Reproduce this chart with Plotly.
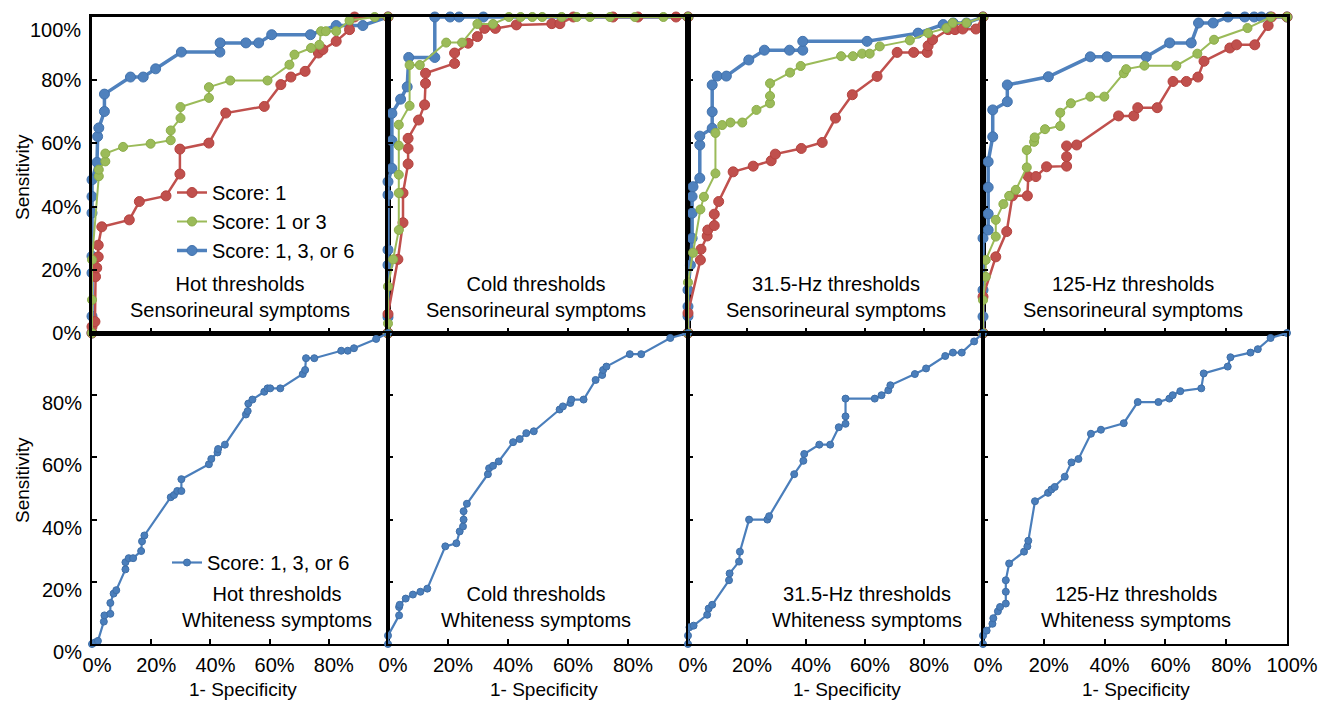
import plotly.graph_objects as go

# ---------------- data (percent) ----------------
# Top row: sensorineural symptoms, three scoring rules
hot_s1_x = [0, 0, 1.0, 1.2, 1.6, 2.1, 2.1, 3.3, 12.6, 16.0, 25.0, 29.7, 29.7, 39.5, 45.2, 58.2, 63.8, 67.2, 72.0, 76.5, 78.0, 82.5, 87.0, 88.7, 100]
hot_s1_y = [0, 2.0, 3.6, 17.8, 20.6, 24.1, 27.8, 33.6, 35.8, 41.6, 43.4, 50.3, 58.2, 60.1, 69.6, 71.7, 78.6, 81.0, 82.8, 88.6, 89.7, 92.3, 96.0, 100, 100]
hot_s13_x = [0, 0, 0, 2.3, 2.3, 4.5, 4.5, 10.5, 19.8, 26.6, 26.6, 29.9, 29.9, 39.5, 39.5, 46.7, 59.3, 66.7, 68.4, 74.0, 76.8, 77.4, 79.0, 82.5, 87.0, 95.5, 100]
hot_s13_y = [0, 10.5, 23.2, 49.6, 51.7, 54.3, 56.8, 58.9, 59.9, 61.0, 64.1, 68.0, 71.5, 74.4, 77.8, 79.9, 79.9, 84.9, 88.1, 90.2, 91.2, 95.5, 95.5, 95.5, 98.9, 100, 100]
hot_s136_x = [0, 0, 0, 0, 0, 0, 0, 1.7, 1.9, 2.3, 4.2, 4.2, 13.0, 17.3, 21.5, 30.2, 43.2, 43.3, 52.0, 56.3, 60.7, 73.8, 82.5, 91.5, 100]
hot_s136_y = [0, 5.3, 19.0, 24.3, 38.0, 43.2, 48.5, 54.0, 62.2, 64.9, 70.1, 75.6, 81.0, 81.0, 83.6, 88.9, 88.9, 91.8, 91.8, 91.8, 94.4, 94.4, 97.3, 97.3, 100]

cold_s1_x = [0, 0, 3.3, 5.0, 5.0, 6.7, 6.7, 6.7, 10.2, 12.2, 12.5, 12.5, 22.2, 22.2, 26.7, 29.8, 32.2, 35.8, 42.8, 54.6, 57.3, 61.8, 75.0, 83.3, 96.0, 100]
cold_s1_y = [0, 6.0, 23.3, 34.9, 44.3, 53.5, 58.4, 61.6, 67.4, 72.2, 79.0, 82.2, 85.3, 88.6, 91.7, 93.8, 96.4, 96.4, 97.5, 97.9, 97.9, 100, 100, 100, 100, 100]
cold_s13_x = [0, 0, 0, 1.7, 3.6, 3.6, 3.6, 3.6, 3.6, 7.2, 7.2, 10.6, 19.4, 24.7, 29.8, 35.0, 40.3, 44.2, 48.1, 51.4, 57.9, 62.9, 67.3, 74.0, 82.3, 91.8, 100]
cold_s13_y = [0, 3.0, 14.7, 23.3, 32.6, 44.3, 50.1, 59.3, 65.9, 71.9, 84.8, 84.8, 91.9, 91.9, 97.8, 97.8, 100, 100, 100, 100, 100, 100, 100, 100, 100, 100, 100]
cold_s136_x = [0, 0, 0, 0, 0, 0, 1.3, 1.3, 1.3, 4.2, 6.4, 6.9, 15.6, 15.6, 20.7, 23.7, 31.8, 100]
cold_s136_y = [0, 5.0, 21.5, 26.3, 43.7, 47.9, 52.1, 60.9, 69.5, 74.0, 77.9, 87.2, 87.2, 100, 100, 100, 100, 100]

hz31_s1_x = [0, 0, 4.2, 4.4, 6.5, 6.7, 8.9, 8.9, 10.4, 15.3, 22.1, 28.2, 29.6, 38.4, 45.5, 50.0, 55.7, 64.1, 70.9, 76.5, 81.1, 81.4, 82.9, 88.2, 90.5, 93.1, 97.6, 100]
hz31_s1_y = [0, 6.3, 23.1, 26.5, 30.7, 32.6, 34.0, 37.6, 41.6, 51.0, 52.8, 54.5, 56.6, 58.4, 60.3, 68.0, 75.4, 81.2, 88.8, 88.8, 88.8, 90.9, 92.8, 96.0, 96.0, 96.2, 96.2, 100]
hz31_s13_x = [0, 0, 1.7, 4.2, 5.4, 9.3, 9.3, 11.6, 14.4, 18.4, 23.2, 27.8, 27.8, 27.8, 34.6, 38.2, 51.9, 55.9, 59.0, 61.6, 65.0, 75.2, 81.4, 87.6, 89.7, 94.4, 100]
hz31_s13_y = [0, 16.0, 25.4, 39.1, 43.1, 50.5, 63.3, 65.8, 66.6, 66.6, 70.6, 72.7, 75.0, 79.0, 82.4, 84.5, 87.6, 87.6, 88.4, 88.4, 90.7, 92.6, 94.9, 96.5, 98.1, 98.1, 100]
hz31_s136_x = [0, 0, 0, 0, 0.8, 1.4, 1.4, 1.4, 1.7, 4.0, 4.0, 4.0, 8.2, 8.2, 8.2, 9.9, 13.0, 20.6, 25.9, 34.4, 38.9, 38.9, 60.7, 78.0, 86.5, 89.9, 94.4, 100]
hz31_s136_y = [0, 5.3, 8.4, 13.6, 21.5, 30.0, 37.9, 43.2, 46.3, 49.0, 59.5, 62.3, 64.8, 70.0, 78.5, 81.3, 81.3, 86.4, 89.5, 89.5, 89.5, 92.3, 92.3, 94.9, 97.6, 98.1, 98.1, 100]

hz125_s1_x = [0, 0, 4.2, 7.8, 9.7, 14.6, 14.9, 17.4, 20.9, 27.5, 27.5, 27.5, 30.8, 44.6, 49.6, 50.9, 57.3, 62.5, 66.9, 70.7, 72.7, 81.2, 83.4, 89.4, 93.8, 94.9, 100]
hz125_s1_y = [0, 11.5, 24.1, 32.1, 43.4, 43.4, 49.5, 49.5, 52.6, 52.8, 55.8, 59.2, 59.5, 68.7, 68.7, 71.3, 71.3, 79.6, 79.6, 81.0, 86.0, 90.2, 91.2, 91.2, 97.3, 100, 100]
hz125_s13_x = [0, 0, 0.9, 0.9, 4.2, 4.2, 6.7, 8.6, 10.8, 14.4, 14.4, 16.8, 17.0, 20.4, 25.4, 25.4, 28.9, 35.3, 39.9, 46.3, 47.1, 53.1, 63.6, 70.5, 76.0, 87.0, 94.7, 100]
hz125_s13_y = [0, 10.4, 17.8, 23.1, 30.5, 35.8, 40.8, 43.4, 45.3, 52.4, 57.9, 60.5, 61.9, 64.5, 65.5, 69.7, 72.7, 74.8, 74.8, 82.2, 83.5, 84.6, 84.6, 88.4, 92.8, 96.5, 100, 100]
hz125_s136_x = [0, 0, 0, 0, 1.7, 1.7, 1.7, 1.7, 3.2, 3.2, 8.0, 8.0, 21.5, 35.3, 40.8, 53.7, 61.4, 68.5, 70.9, 75.7, 80.6, 86.1, 89.2, 91.6, 94.4, 100]
hz125_s136_y = [0, 5.2, 13.6, 30.0, 32.6, 37.7, 46.1, 54.2, 62.1, 70.6, 73.2, 78.5, 81.1, 87.4, 87.4, 87.4, 91.8, 91.8, 98.1, 98.1, 100, 100, 100, 100, 100, 100]

# Bottom row: whiteness symptoms, score 1, 3, or 6
hot_wh_x = [0, 1.0, 2.0, 4.0, 4.2, 6.2, 6.2, 7.3, 8.2, 11.3, 11.3, 12.4, 13.9, 16.6, 16.9, 17.7, 26.6, 27.7, 28.8, 30.2, 30.2, 39.5, 40.3, 42.4, 42.6, 44.9, 52.0, 52.6, 52.8, 54.2, 58.2, 59.3, 60.2, 63.6, 71.2, 72.0, 72.3, 75.1, 84.2, 86.4, 88.5, 96.0, 100]
hot_wh_y = [0, 0.5, 1.0, 7.2, 9.2, 9.7, 13.2, 16.2, 17.3, 24.0, 26.3, 27.6, 27.6, 29.9, 33.0, 34.9, 47.2, 47.9, 49.2, 49.2, 53.0, 57.8, 59.5, 61.6, 62.7, 64.1, 73.8, 74.9, 77.3, 78.6, 81.1, 82.2, 82.2, 82.2, 86.8, 88.1, 91.9, 91.9, 94.3, 94.3, 95.1, 98.1, 100]
cold_wh_x = [0, 0, 3.7, 3.7, 3.9, 5.9, 8.3, 10.8, 13.1, 19.1, 22.8, 23.9, 25.0, 25.2, 25.2, 26.3, 33.3, 33.7, 35.0, 36.9, 41.7, 43.9, 46.1, 48.6, 57.2, 58.3, 60.8, 61.1, 65.2, 69.2, 71.4, 71.7, 72.8, 80.6, 84.4, 94.1, 100]
cold_wh_y = [0, 2.7, 9.2, 11.9, 12.6, 14.6, 15.9, 16.8, 17.8, 31.4, 32.4, 36.2, 37.8, 40.0, 42.7, 45.1, 54.6, 56.5, 57.3, 58.7, 64.9, 65.9, 67.8, 68.4, 75.4, 76.4, 77.5, 78.6, 78.6, 84.9, 86.5, 88.1, 89.2, 93.2, 93.2, 98.4, 100]
hz31_wh_x = [0, 0, 0.5, 1.9, 6.5, 7.0, 8.2, 13.9, 14.1, 17.3, 17.6, 20.7, 26.9, 27.5, 36.0, 39.1, 39.4, 44.5, 48.2, 51.1, 53.4, 53.4, 53.4, 63.3, 65.6, 67.9, 68.6, 76.9, 80.7, 87.2, 89.8, 92.8, 97.0, 100]
hz31_wh_y = [0, 2.7, 5.4, 5.9, 9.4, 11.4, 12.6, 20.5, 22.7, 26.5, 29.7, 40.0, 40.0, 41.1, 54.6, 58.9, 61.1, 64.1, 64.1, 69.7, 70.8, 73.2, 78.9, 78.9, 80.0, 81.6, 83.2, 86.8, 88.6, 92.6, 93.7, 93.7, 97.3, 100]
hz125_wh_x = [0, 0, 1.2, 3.1, 3.4, 4.9, 5.6, 7.5, 7.5, 7.5, 8.6, 13.5, 14.6, 14.9, 17.1, 21.4, 22.5, 23.6, 26.9, 29.1, 31.4, 35.5, 38.8, 46.3, 50.9, 57.7, 61.3, 62.4, 64.9, 71.8, 72.6, 80.5, 81.4, 88.0, 90.4, 94.6, 100]
hz125_wh_y = [0, 2.7, 4.3, 6.5, 8.3, 10.5, 11.9, 13.0, 16.8, 20.5, 25.9, 29.7, 31.4, 33.2, 45.9, 48.6, 49.7, 50.5, 53.8, 58.4, 59.5, 67.6, 68.9, 71.0, 77.8, 77.8, 78.9, 80.0, 81.3, 82.2, 87.0, 89.2, 92.2, 93.7, 94.8, 98.4, 100]

panel_titles_top = ["Hot thresholds", "Cold thresholds", "31.5-Hz thresholds", "125-Hz thresholds"]
symptom_top = "Sensorineural symptoms"
symptom_bottom = "Whiteness symptoms"
series_names = ["Score: 1", "Score: 1 or 3", "Score: 1, 3, or 6"]
x_title = "1- Specificity"
y_title = "Sensitivity"
tick_values = [0, 20, 40, 60, 80, 100]
tick_labels = ["0%", "20%", "40%", "60%", "80%", "100%"]

top_series = [
    [(hot_s1_x, hot_s1_y), (hot_s13_x, hot_s13_y), (hot_s136_x, hot_s136_y)],
    [(cold_s1_x, cold_s1_y), (cold_s13_x, cold_s13_y), (cold_s136_x, cold_s136_y)],
    [(hz31_s1_x, hz31_s1_y), (hz31_s13_x, hz31_s13_y), (hz31_s136_x, hz31_s136_y)],
    [(hz125_s1_x, hz125_s1_y), (hz125_s13_x, hz125_s13_y), (hz125_s136_x, hz125_s136_y)],
]
bottom_series = [(hot_wh_x, hot_wh_y), (cold_wh_x, cold_wh_y), (hz31_wh_x, hz31_wh_y), (hz125_wh_x, hz125_wh_y)]

# ---------------- styling / layout ----------------
W, H = 1320, 702
FONT = "Liberation Sans, Arial, sans-serif"
col_px = [(92, 388), (388, 688), (688, 983), (983, 1287)]
row_px = [(17, 333), (333, 644)]
RED, GREEN, BLUE = "#C0504D", "#9BBB59", "#4F81BD"
styles = [
    dict(color=RED, lw=2.5, ms=10, edge="#B5433F"),
    dict(color=GREEN, lw=2.0, ms=9, edge="#8CAD49"),
    dict(color=BLUE, lw=3.5, ms=10, edge="#4273AE"),
]
draw_order = [2, 0, 1]  # blue underneath, green on top

fig = go.Figure()

def ax_id(r, c):
    return r * 4 + c + 1

for c in range(4):
    k = ax_id(0, c)
    for s in draw_order:
        xs, ys = top_series[c][s]
        st = styles[s]
        fig.add_trace(go.Scatter(
            x=xs, y=ys, mode="lines+markers", name=series_names[s],
            line=dict(color=st["color"], width=st["lw"]),
            marker=dict(size=st["ms"], color=st["color"], line=dict(color=st["edge"], width=1)),
            xaxis=f"x{k}", yaxis=f"y{k}", cliponaxis=False,
            showlegend=(c == 0), legend="legend", legendrank=s + 1,
        ))
    k = ax_id(1, c)
    xs, ys = bottom_series[c]
    fig.add_trace(go.Scatter(
        x=xs, y=ys, mode="lines+markers", name=series_names[2],
        line=dict(color="#4A7EBB", width=2.2),
        marker=dict(size=7, color="#4A7EBB", line=dict(color="#3F6FA8", width=1)),
        xaxis=f"x{k}", yaxis=f"y{k}", cliponaxis=False,
        showlegend=(c == 0), legend="legend2",
    ))

layout = dict(
    width=W, height=H, margin=dict(l=0, r=0, t=0, b=0, pad=0, autoexpand=False),
    paper_bgcolor="white", plot_bgcolor="white",
    font=dict(family=FONT, size=20, color="black"),
    hovermode=False,
    legend=dict(x=172 / W, y=1 - 173 / H, xanchor="left", yanchor="top",
                bgcolor="rgba(0,0,0,0)", font=dict(size=20), tracegroupgap=0,
                traceorder="normal"),
    legend2=dict(x=167 / W, y=1 - 543 / H, xanchor="left", yanchor="top",
                 bgcolor="rgba(0,0,0,0)", font=dict(size=20)),
)

for r in range(2):
    for c in range(4):
        k = ax_id(r, c)
        x0, x1 = col_px[c]
        y0, y1 = row_px[r]
        nx = 6 if c == 3 else 5
        lw = 2.5 if r == 0 else 2
        layout[f"xaxis{k}"] = dict(
            domain=[x0 / W, x1 / W], anchor=f"y{k}", range=[0, 100], automargin=False,
            tickmode="array", tickvals=tick_values[:nx], ticktext=tick_labels[:nx],
            showticklabels=(r == 1),
            ticks="inside", ticklen=5, tickwidth=1.5, tickcolor="black",
            showline=True, mirror=True, linecolor="black", linewidth=lw,
            showgrid=False, zeroline=False, ticklabelshift=5, ticklabelstandoff=2,
            tickfont=dict(family=FONT, size=20, color="black"),
        )
        layout[f"yaxis{k}"] = dict(
            domain=[1 - y1 / H, 1 - y0 / H], anchor=f"x{k}", range=[0, 100], automargin=False,
            tickmode="array", tickvals=tick_values[:5], ticktext=tick_labels[:5],
            showticklabels=(c == 0),
            ticks="inside", ticklen=5, tickwidth=1.5, tickcolor="black",
            showline=True, mirror=True, linecolor="black", linewidth=lw,
            showgrid=False, zeroline=False, ticklabelstandoff=4,
            ticklabelshift=(8 if r == 1 else 0),
            tickfont=dict(family=FONT, size=20, color="black"),
        )

fig.update_layout(**layout)

ann = []
# top-left "100%" label (sits slightly below the top edge in the reference)
ann.append(dict(x=83 / W, y=1 - 30 / H, xref="paper", yref="paper", text="100%",
                showarrow=False, xanchor="right", yanchor="middle", font=dict(size=20)))
top_centers = [240, 536, 836, 1133]
bot_centers = [277, 536, 867, 1136]
for c in range(4):
    ann.append(dict(x=top_centers[c] / W, y=1 - 297 / H, xref="paper", yref="paper",
                    text=panel_titles_top[c] + "<br>" + symptom_top, showarrow=False,
                    xanchor="center", yanchor="middle", font=dict(size=20)))
    ann.append(dict(x=bot_centers[c] / W, y=1 - 607 / H, xref="paper", yref="paper",
                    text=panel_titles_top[c] + "<br>" + symptom_bottom, showarrow=False,
                    xanchor="center", yanchor="middle", font=dict(size=20)))
xt_centers = [243, 544, 847, 1136]
for c in range(4):
    ann.append(dict(x=xt_centers[c] / W, y=1 - 689 / H, xref="paper", yref="paper",
                    text=x_title, showarrow=False, xanchor="center", yanchor="middle",
                    font=dict(size=19)))
for yc in (177, 480):
    ann.append(dict(x=22 / W, y=1 - yc / H, xref="paper", yref="paper", text=y_title,
                    showarrow=False, textangle=-90, xanchor="center", yanchor="middle",
                    font=dict(size=19)))
fig.update_layout(annotations=ann)

fig.write_html("out.html", config={"displayModeBar": False},
               post_script="document.body.style.margin='0';document.body.style.overflow='hidden';")
